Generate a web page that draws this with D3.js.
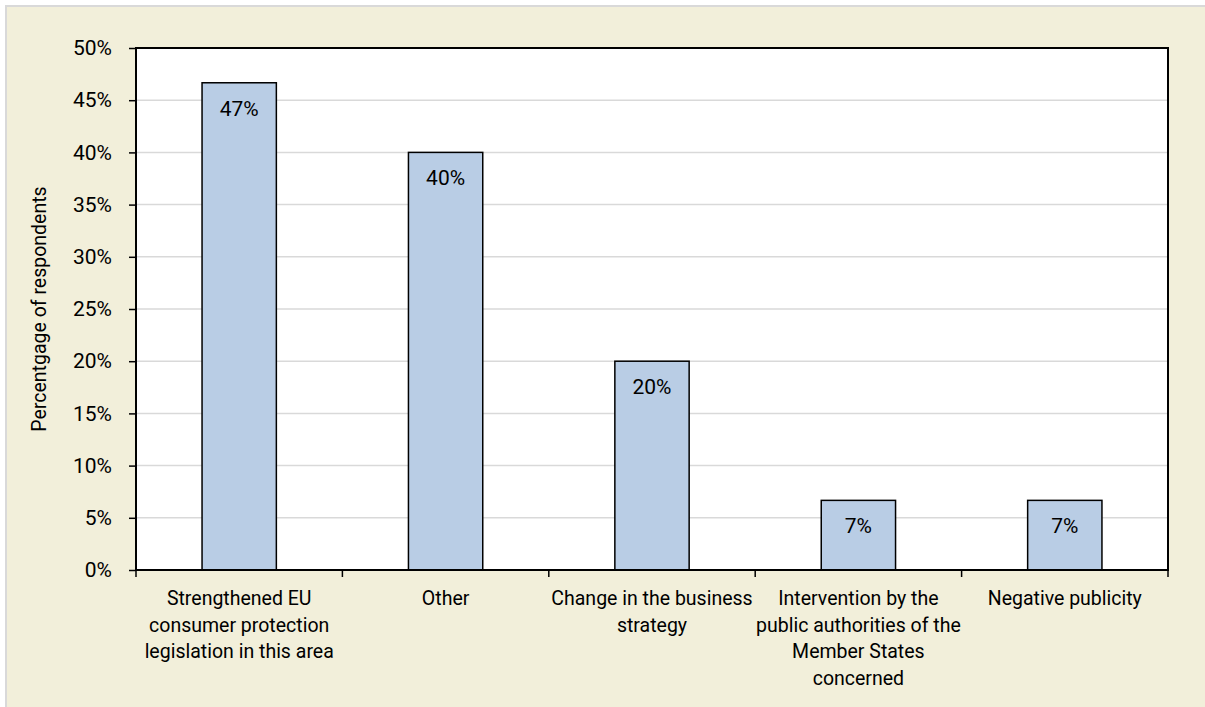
<!DOCTYPE html>
<html>
<head>
<meta charset="utf-8">
<script src="https://cdn.jsdelivr.net/npm/d3@7"></script>
<style>
  html, body { margin: 0; padding: 0; background: #ffffff; }
  svg { display: block; }
  text { font-family: Roboto, "Noto Sans", sans-serif; fill: #000; }
</style>
</head>
<body>
<script>
const categories = [
  "Strengthened EU\nconsumer protection\nlegislation in this area",
  "Other",
  "Change in the business\nstrategy",
  "Intervention by the\npublic authorities of the\nMember States\nconcerned",
  "Negative publicity"
];
const values = [46.67, 40, 20, 6.67, 6.67];
const valueLabels = ["47%", "40%", "20%", "7%", "7%"];
const yTicks = [0, 5, 10, 15, 20, 25, 30, 35, 40, 45, 50];
const yTitle = "Percentgage of respondents";

const W = 1205, H = 707;
const plot = { left: 136, right: 1168, top: 48, bottom: 570 };
const FS = "19.5px";
const FSN = "21px";

const svg = d3.select("body").append("svg").attr("width", W).attr("height", H);

// outer panel
svg.append("rect").attr("x", 6).attr("y", 6).attr("width", W).attr("height", H)
  .attr("fill", "#f2efda").attr("stroke", "#d9d9d9").attr("stroke-width", 2);

// plot area
svg.append("rect").attr("x", plot.left).attr("y", plot.top)
  .attr("width", plot.right - plot.left).attr("height", plot.bottom - plot.top)
  .attr("fill", "#ffffff");

const x = d3.scaleBand().domain(categories).range([plot.left, plot.right]).paddingInner(0.64).paddingOuter(0.32);
const y = d3.scaleLinear().domain([0, 50]).range([plot.bottom, plot.top]);

// gridlines
svg.append("g").selectAll("line").data(yTicks.filter(d => d > 0 && d < 50)).join("line")
  .attr("x1", plot.left).attr("x2", plot.right)
  .attr("y1", d => y(d)).attr("y2", d => y(d))
  .attr("stroke", "#d9d9d9").attr("stroke-width", 1.5);

// bars
svg.append("g").selectAll("rect").data(values).join("rect")
  .attr("x", (d, i) => x(categories[i]))
  .attr("y", d => y(d))
  .attr("width", x.bandwidth())
  .attr("height", d => y(0) - y(d))
  .attr("fill", "#b9cde5").attr("stroke", "#000").attr("stroke-width", 1.5);

// value labels
svg.append("g").selectAll("text").data(values).join("text")
  .attr("x", (d, i) => x(categories[i]) + x.bandwidth() / 2)
  .attr("y", d => y(d) + 33)
  .attr("text-anchor", "middle")
  .style("font-size", FSN)
  .text((d, i) => valueLabels[i]);

// border
svg.append("rect").attr("x", plot.left).attr("y", plot.top)
  .attr("width", plot.right - plot.left).attr("height", plot.bottom - plot.top)
  .attr("fill", "none").attr("stroke", "#000").attr("stroke-width", 2);

// y axis
const yAxis = d3.axisLeft(y).tickValues(yTicks).tickFormat(d => d + "%").tickSize(7).tickPadding(17);
const gy = svg.append("g").attr("transform", `translate(${plot.left},0)`).call(yAxis);
gy.select(".domain").remove();
gy.selectAll(".tick line").attr("stroke", "#000").attr("stroke-width", 1.5);
gy.selectAll(".tick text").style("font-size", FSN).style("font-family", "Roboto, sans-serif").attr("fill", "#000");

// x axis ticks at band boundaries
const boundaries = d3.range(categories.length + 1).map(i => plot.left + i * (plot.right - plot.left) / categories.length);
svg.append("g").selectAll("line").data(boundaries).join("line")
  .attr("x1", d => d).attr("x2", d => d)
  .attr("y1", plot.bottom).attr("y2", plot.bottom + 7)
  .attr("stroke", "#000").attr("stroke-width", 1.5);

// x labels
const xl = svg.append("g").selectAll("text").data(categories).join("text")
  .attr("x", d => x(d) + x.bandwidth() / 2)
  .attr("y", plot.bottom + 35)
  .attr("text-anchor", "middle")
  .style("font-size", FS);
xl.each(function(d) {
  const t = d3.select(this);
  d.split("\n").forEach((line, i) => {
    t.append("tspan").attr("x", t.attr("x")).attr("dy", i === 0 ? 0 : 26.5).text(line);
  });
});

// y title
svg.append("text")
  .attr("transform", `translate(46,${(plot.top + plot.bottom) / 2}) rotate(-90)`)
  .attr("text-anchor", "middle")
  .style("font-size", FS)
  .text(yTitle);
</script>
</body>
</html>
